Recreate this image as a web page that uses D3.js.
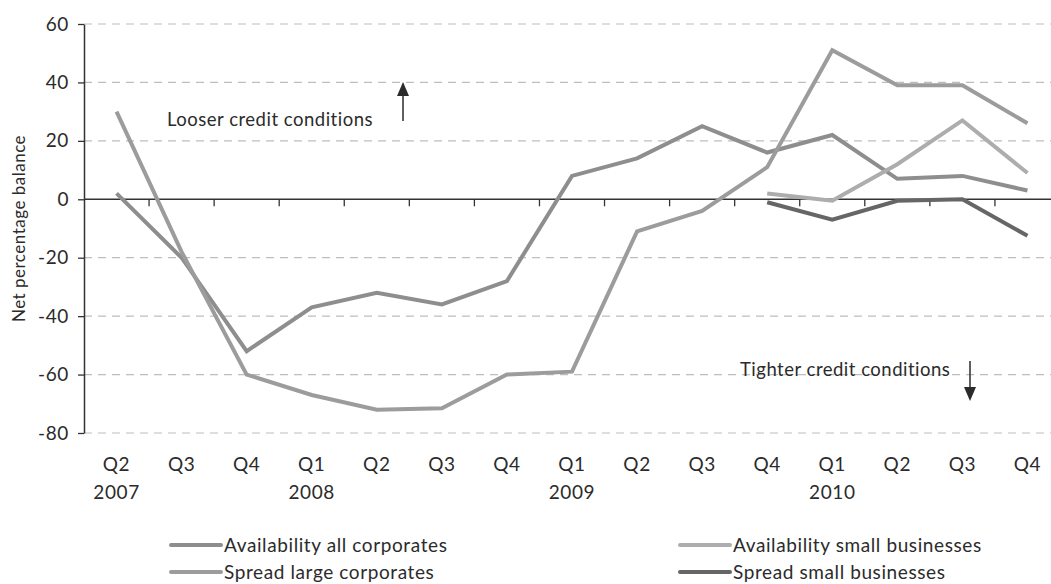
<!DOCTYPE html>
<html>
<head>
<meta charset="utf-8">
<script src="https://cdn.jsdelivr.net/npm/d3@7"></script>
<style>
	body{margin:0;background:#fff;}
	svg{display:block;font-family:Lato,'Open Sans',sans-serif;}
	.grid line{stroke:#bdbdbd;stroke-dasharray:8,6;stroke-width:1.2;}
	.lbl{fill:#2b2b2b;}
</style>
</head>
<body>
<svg id="chart" width="1051" height="584"></svg>
<script>
const quarters = ['Q2','Q3','Q4','Q1','Q2','Q3','Q4','Q1','Q2','Q3','Q4','Q1','Q2','Q3','Q4']
const years = ['2007','','','2008','','','','2009','','','','2010','','','']
const yTicks = [60,40,20,0,-20,-40,-60,-80]

const availAll = [2,-20,-52,-37,-32,-36,-28,8,14,25,16,22,7,8,3]
const spreadLarge = [30,-18,-60,-67,-72,-71.5,-60,-59,-11,-4,11,51,39,39,26]
const availSmall = [null,null,null,null,null,null,null,null,null,null,2,-0.5,12,27,9]
const spreadSmall = [null,null,null,null,null,null,null,null,null,null,-1,-7,-0.5,0,-12.5]

const series = [
	{name:'Availability all corporates', values:availAll, color:'#8e8e8e'},
	{name:'Spread large corporates', values:spreadLarge, color:'#9c9c9c'},
	{name:'Availability small businesses', values:availSmall, color:'#adadad'},
	{name:'Spread small businesses', values:spreadSmall, color:'#666666'}
]

const svg = d3.select('#chart')
const mLeft = 84, mRight = 1060, mTop = 24, mBottom = 433

const idx = quarters.map((q,i)=>i)
const xScale = d3.scaleBand().domain(idx).range([mLeft,mRight])
const yScale = d3.scaleLinear().domain([-80,60]).range([mBottom,mTop])
const cx = i => xScale(i) + xScale.bandwidth()/2

// gridlines
svg.append('g').classed('grid',true)
	.selectAll('line')
	.data(yTicks.filter(t=>t!==0))
	.enter()
	.append('line')
	.attr('x1',mLeft).attr('x2',1051)
	.attr('y1',d=>yScale(d)).attr('y2',d=>yScale(d))

// y axis
const axisY = svg.append('g')
	.attr('transform',`translate(${mLeft},0)`)
	.call(d3.axisLeft(yScale).tickValues(yTicks).tickSize(6).tickSizeOuter(0).tickFormat(d=>String(d)))
axisY.select('.domain').attr('stroke','#333').attr('stroke-width',1.5)
axisY.selectAll('.tick line').attr('stroke','#333').attr('stroke-width',1.3)
axisY.selectAll('.tick text').attr('font-size',19).attr('fill','#2b2b2b').attr('x',-15)
	.attr('font-family','Lato,sans-serif').attr('letter-spacing',0.6)

// zero line with band ticks
const zero = yScale(0)
svg.append('line').attr('x1',mLeft).attr('x2',1051).attr('y1',zero).attr('y2',zero)
	.attr('stroke','#333').attr('stroke-width',1.5)
svg.append('g').selectAll('line')
	.data(idx.slice(1))
	.enter()
	.append('line')
	.attr('x1',d=>xScale(d)).attr('x2',d=>xScale(d))
	.attr('y1',zero).attr('y2',zero+7)
	.attr('stroke','#333').attr('stroke-width',1.3)

// x labels
svg.append('g').selectAll('text')
	.data(idx)
	.enter()
	.append('text')
	.classed('lbl',true)
	.attr('x',d=>cx(d)).attr('y',471)
	.attr('text-anchor','middle').attr('font-size',19).attr('letter-spacing',0.6)
	.text(d=>quarters[d])
svg.append('g').selectAll('text')
	.data(idx.filter(i=>years[i]))
	.enter()
	.append('text')
	.classed('lbl',true)
	.attr('x',d=>cx(d)).attr('y',499)
	.attr('text-anchor','middle').attr('font-size',19).attr('letter-spacing',0.6)
	.text(d=>years[d])

// y title
svg.append('text').classed('lbl',true)
	.attr('transform',`translate(25,${(mTop+mBottom)/2}) rotate(-90)`)
	.attr('text-anchor','middle').attr('font-size',17).attr('letter-spacing',0.5)
	.text('Net percentage balance')

// lines
const line = d3.line()
	.defined(d=>d.v!==null)
	.x(d=>cx(d.i)).y(d=>yScale(d.v))

svg.append('g').selectAll('path')
	.data(series)
	.enter()
	.append('path')
	.attr('fill','none')
	.attr('stroke',d=>d.color)
	.attr('stroke-width',4)
	.attr('stroke-linejoin','miter')
	.attr('d',d=>line(d.values.map((v,i)=>({i:i,v:v}))))

// annotations
svg.append('text').classed('lbl',true)
	.attr('x',167).attr('y',126).attr('font-size',18.5).attr('letter-spacing',0.5)
	.text('Looser credit conditions')
svg.append('text').classed('lbl',true)
	.attr('x',740).attr('y',376).attr('font-size',18.5).attr('letter-spacing',0.5)
	.text('Tighter credit conditions')

const arrow = (x,y1,y2)=>{
	const dir = y2<y1 ? -1 : 1
	svg.append('line').attr('x1',x).attr('x2',x).attr('y1',y1).attr('y2',y2-dir*12)
		.attr('stroke','#2b2b2b').attr('stroke-width',1.5)
	svg.append('path')
		.attr('d',`M${x-6},${y2-dir*14}L${x+6},${y2-dir*14}L${x},${y2}Z`)
		.attr('fill','#2b2b2b')
}
arrow(403,121,82)
arrow(970,361,401)

// legend
const legPos = [[171,545],[171,572],[680,545],[680,572]]
const legend = svg.append('g').selectAll('g')
	.data(series)
	.enter()
	.append('g')
	.attr('transform',(d,i)=>`translate(${legPos[i][0]},${legPos[i][1]})`)
legend.append('line').attr('x1',0).attr('x2',50).attr('y1',0).attr('y2',0)
	.attr('stroke',d=>d.color).attr('stroke-width',4).attr('stroke-linecap','round')
legend.append('text').classed('lbl',true)
	.attr('x',53).attr('y',7).attr('font-size',19).attr('letter-spacing',0.6)
	.text(d=>d.name)
</script>
</body>
</html>
